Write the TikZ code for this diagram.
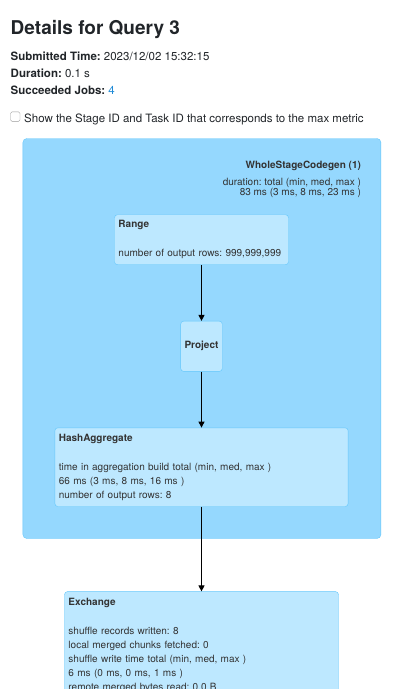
\documentclass[tikz,border=0pt]{standalone}
\usepackage{fontspec}
\setmainfont{TeX Gyre Heros}
\usetikzlibrary{arrows.meta,positioning}
\definecolor{clusterfill}{HTML}{95D8FE}
\definecolor{nodefill}{HTML}{BDE8FF}
\definecolor{boxline}{HTML}{62C6FB}
\definecolor{headink}{HTML}{212529}
\definecolor{nodeink}{HTML}{333333}
\definecolor{linkblue}{HTML}{1F8AD6}
\frenchspacing
\begin{document}
\begin{tikzpicture}
[ x=1pt, y=1pt,
headtext/.style={anchor=base west, inner sep=0pt, text=headink,
 font=\fontsize{11.5}{13}\selectfont},
cluster/.style={rectangle, draw=boxline, fill=clusterfill, rounded corners=4pt,
 anchor=north west, inner sep=0pt},
plannode/.style={rectangle, draw=boxline, fill=nodefill, rounded corners=3pt,
 text=nodeink, align=left, inner xsep=4pt, inner ysep=5pt,
 font=\fontsize{10}{14}\selectfont},
flow/.style={-{Triangle[width=6pt,length=6pt]}, line width=0.9pt, draw=black},
]
\useasboundingbox (0,0) rectangle (416,-689);
\clip (0,0) rectangle (416,-689);

% page header
\node (title) [headtext, font=\fontsize{19}{20}\selectfont\bfseries]
 at (10.5,-34.7) {Details for Query 3};
\node (submitted) [headtext] at (10.5,-60) {\textbf{Submitted Time:} 2023/12/02 15:32:15};
\node (duration) [headtext] at (10.5,-77) {\textbf{Duration:} 0.1 s};
\node (jobs) [headtext] at (10.5,-94) {\textbf{Succeeded Jobs:} \textcolor{linkblue}{4}};
\node (checkbox) [draw=gray!80, rounded corners=1.5pt, minimum size=9.5pt,
 inner sep=0pt, anchor=north west] at (10.3,-111.7) {};
\node (showids) [headtext] at (24,-122)
 {Show the Stage ID and Task ID that corresponds to the max metric};

% codegen stage
\node (wsc) [cluster, minimum width=358pt, minimum height=400pt] at (22.7,-138.3) {};
\node (wsctitle) [anchor=base east, inner sep=0pt, text=nodeink,
 font=\fontsize{10}{10}\selectfont\bfseries]
 at ([shift={(-20,-30)}]wsc.north east) {WholeStageCodegen (1)};
\node (wscmetric) [anchor=north east, inner sep=0pt, text=nodeink, align=right,
 font=\fontsize{10}{10}\selectfont]
 at ([shift={(-20,-40)}]wsc.north east)
 {duration: total (min, med, max )\\83 ms (3 ms, 8 ms, 23 ms )};

\matrix (plan) [row sep=56pt, inner sep=0pt, anchor=north] at (201.5,-214.3)
{
% row 1
\node (range) [plannode, text width=166pt, minimum height=50pt]
 {\textbf{Range}\\[15pt]number of output rows: 999,999,999}; \\
% row 2
\node (project) [plannode, align=center, inner xsep=1pt, minimum width=41.6pt,
 minimum height=50.3pt] {\textbf{Project}}; \\
% row 3
\node (hashagg) [plannode, text width=285.3pt, minimum height=78.7pt]
 {\textbf{HashAggregate}\\[15pt]time in aggregation build total (min, med, max )\\
 66 ms (3 ms, 8 ms, 16 ms )\\number of output rows: 8}; \\[28.7pt]
% row 4
\node (exchange) [plannode, text width=266pt, inner ysep=6.5pt]
 {\textbf{Exchange}\\[15pt]shuffle records written: 8\\
 local merged chunks fetched: 0\\
 shuffle write time total (min, med, max )\\
 6 ms (0 ms, 0 ms, 1 ms )\\
 remote merged bytes read: 0.0 B}; \\
};

\draw[flow] (range) -- (project);
\draw[flow] (project) -- (hashagg);
\draw[flow] (hashagg) -- (exchange);
\end{tikzpicture}
\end{document}
